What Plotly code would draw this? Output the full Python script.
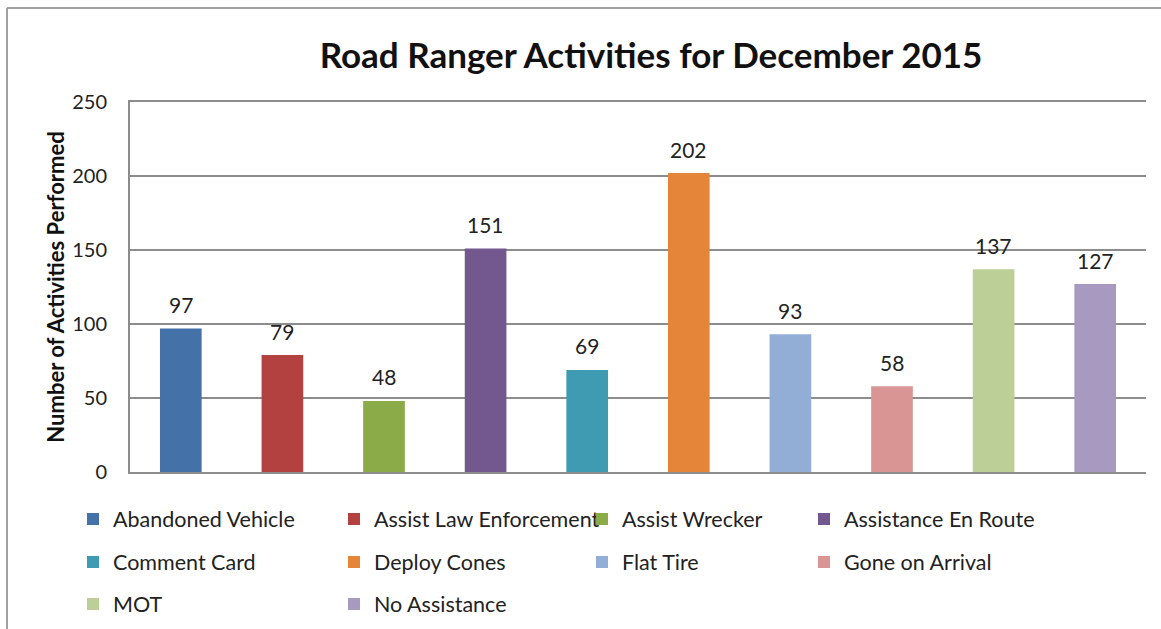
import plotly.graph_objects as go

categories = ["Abandoned Vehicle", "Assist Law Enforcement", "Assist Wrecker",
              "Assistance En Route", "Comment Card", "Deploy Cones", "Flat Tire",
              "Gone on Arrival", "MOT", "No Assistance"]
values = [97, 79, 48, 151, 69, 202, 93, 58, 137, 127]
colors = ["#4472A8", "#B2413F", "#8BAA48", "#73578F", "#3F9BB2", "#E5853A",
          "#92ADD6", "#D99594", "#BCCF96", "#A899C0"]
y_ticks = [0, 50, 100, 150, 200, 250]

FONT = "Lato"
L, R, T, B = 130, 15, 102, 157
W, H = 1161, 629
PW, PH = W - L - R, H - T - B


def px_x(px):
    return (px - L) / PW


def px_y(py):
    return (H - B - py) / PH


# legend layout: text-start pixel per column, row centre pixel per row
col_text = [111, 372, 620, 842]
row_mid = [519, 562, 604]

fig = go.Figure()
legend_defs = {}
annotations = []
for i, (cat, val, col) in enumerate(zip(categories, values, colors)):
    lg = "legend" if i == 0 else f"legend{i + 1}"
    r, c = divmod(i, 4)
    legend_defs[lg] = dict(
        x=px_x(col_text[c] - 38), y=px_y(row_mid[r]),
        xanchor="left", yanchor="middle", orientation="h",
        font=dict(size=21.5, color="#222", family=FONT),
        bgcolor="rgba(0,0,0,0)", itemwidth=30,
    )
    fig.add_trace(go.Bar(
        x=[cat], y=[val], name=cat, marker_color=col, marker_line_width=0,
        width=0.41, legend=lg, hoverinfo="x+y",
    ))
    annotations.append(dict(
        x=cat, y=val, xref="x", yref="y", text=str(val), showarrow=False,
        yanchor="middle", yshift=24,
        font=dict(size=21, color="#222", family=FONT),
    ))

fig.update_layout(
    width=W, height=H,
    margin=dict(l=L, r=R, t=T, b=B, autoexpand=False),
    paper_bgcolor="white", plot_bgcolor="white",
    font=dict(family=FONT, color="#222"),
    title=dict(text="<b>Road Ranger Activities for December 2015</b>",
               x=651 / W, xanchor="center", y=1 - 56 / H, yanchor="middle",
               font=dict(size=35, family=FONT, color="#111")),
    barmode="overlay",
    showlegend=True,
    annotations=annotations,
    xaxis=dict(categoryorder="array", categoryarray=categories,
               showticklabels=False, showgrid=False, zeroline=False,
               showline=True, mirror=True, linecolor="#8c8c8c", linewidth=2,
               range=[-0.5, 9.5], fixedrange=True),
    yaxis=dict(range=[0, 250], tickvals=y_ticks, showgrid=True,
               gridcolor="#8c8c8c", gridwidth=2, zeroline=False,
               showline=True, linecolor="#8c8c8c", linewidth=2,
               ticks="", ticklabelstandoff=17, automargin=False,
               tickfont=dict(size=20, family=FONT, color="#222"),
               title=dict(text="<b>Number of Activities Performed</b>",
                          font=dict(size=22, family=FONT, color="#111"),
                          standoff=1)),
    shapes=[
        dict(type="line", xref="paper", yref="paper",
             x0=px_x(7), x1=px_x(W), y0=px_y(8), y1=px_y(8),
             line=dict(color="#a0a0a0", width=2)),
        dict(type="line", xref="paper", yref="paper",
             x0=px_x(7), x1=px_x(7), y0=px_y(8), y1=px_y(H + 10),
             line=dict(color="#a0a0a0", width=2)),
    ],
    **legend_defs,
)
fig.write_html("out.html",
               config={"displayModeBar": False},
               post_script="document.body.style.margin='0';"
                           "document.body.style.overflow='hidden';")
